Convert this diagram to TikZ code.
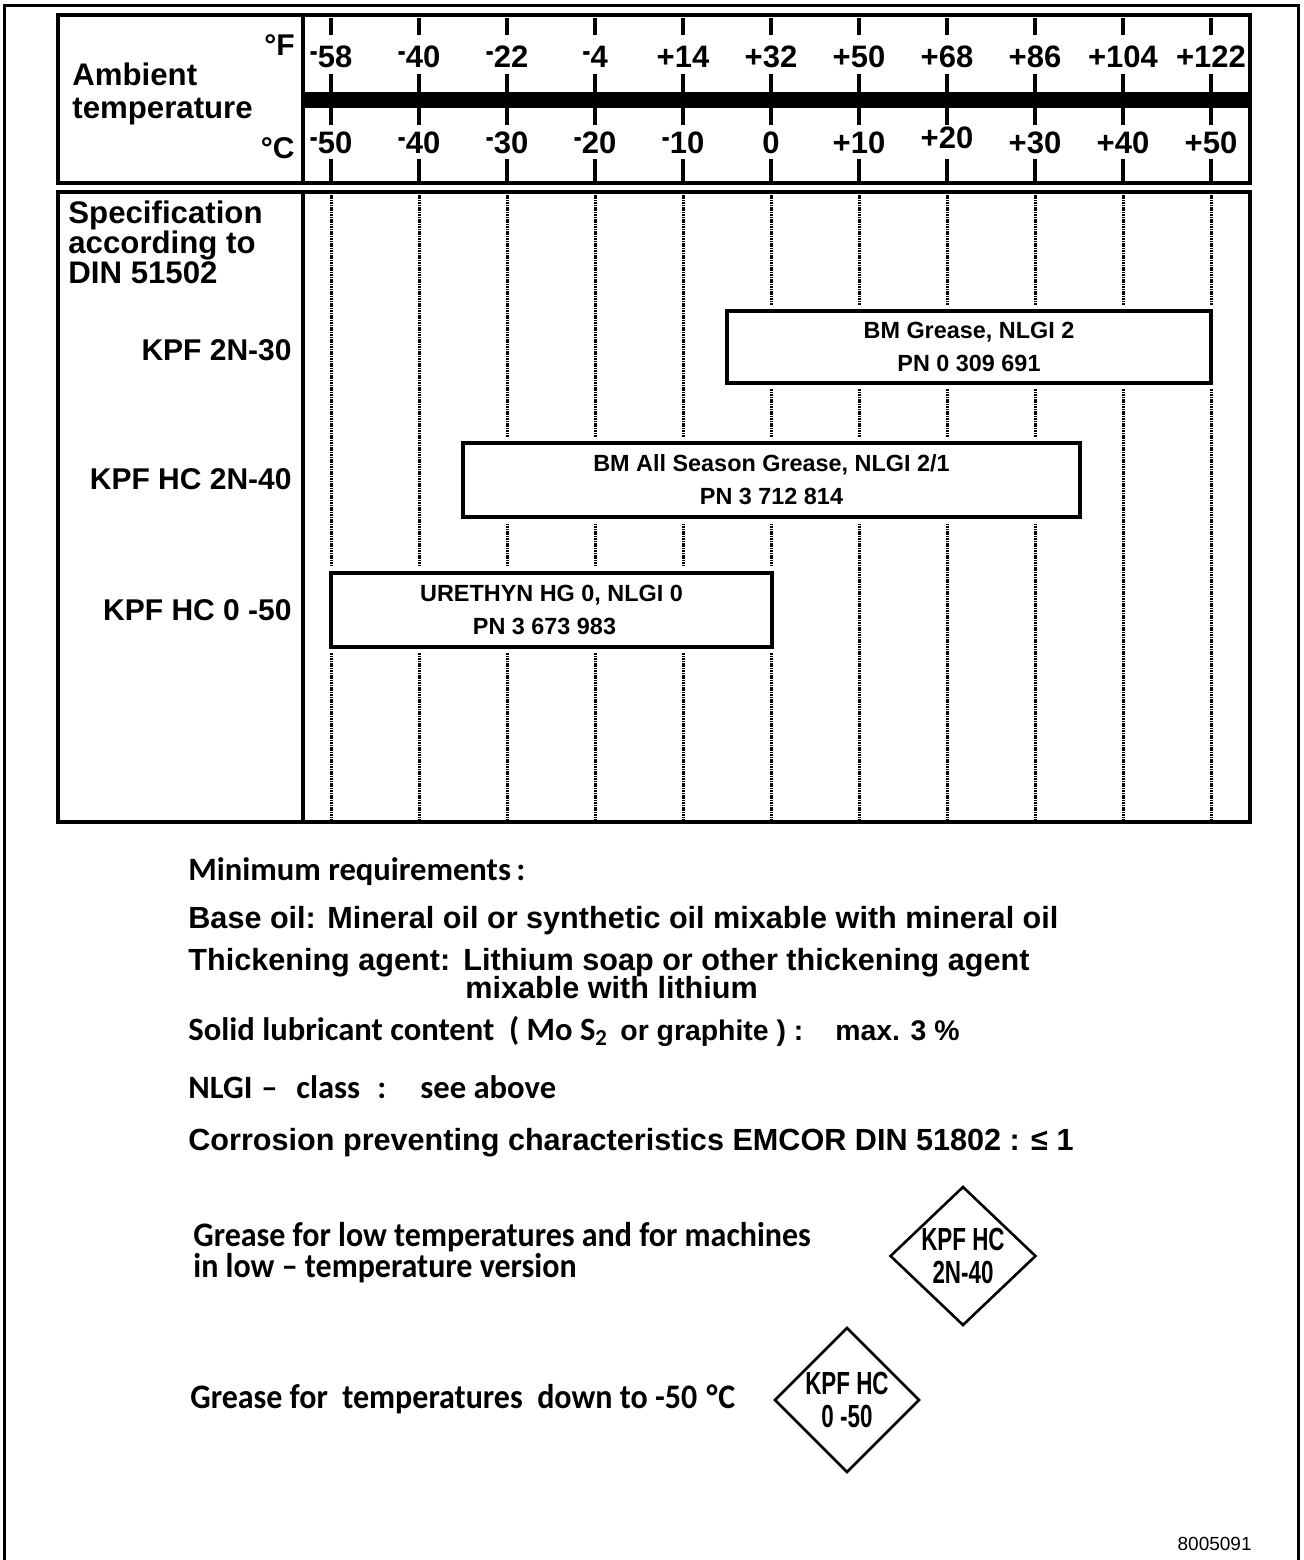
\documentclass[tikz,border=0pt]{standalone}
\usepackage{fontspec}
\usepackage{graphicx}
\setmainfont{Liberation Sans}
\newfontfamily\calfont{Carlito}
\newfontfamily\calcfont[FakeStretch=0.93]{Carlito}
\newfontfamily\narrowfont[FakeStretch=0.7]{Liberation Sans}
\usetikzlibrary{shapes.geometric}
\newcommand\mneg{\raisebox{0.17em}{\scalebox{0.8}[1]{-}}}
\newcommand\fs[2]{\fontsize{#1}{#2}\selectfont}
\tikzset{
  frame/.style={line width=1.7pt},
  tickline/.style={line width=1.6pt},
  gridline/.style={line width=1.5pt, dash pattern=on 0.8pt off 0.4pt},
  rangebox/.style={draw, line width=1.8pt, fill=white, preaction={draw=white, line width=6pt},
    inner sep=0pt, font=\bfseries\fs{11.7}{16.5}, align=center},
  axlab/.style={font=\bfseries\fs{15.5}{15.5}, inner sep=0pt, anchor=base},
  lab/.style={font=\bfseries\fs{15}{15}, inner sep=0pt},
  biglab/.style={font=\bfseries\fs{15.6}{15.6}, inner sep=0pt, anchor=base west},
  req/.style={font=\bfseries\fs{15.3}{15.3}, inner sep=0pt, anchor=base west},
  sreq/.style={font=\bfseries\fs{14.2}{14.2}, inner sep=0pt, anchor=base west},
  creq/.style={font=\calfont\bfseries\fs{16.3}{16.3}, inner sep=0pt, anchor=base west},
  grease/.style={font=\calcfont\bfseries\fs{17.2}{17.2}, inner sep=0pt, anchor=base west},
  badge/.style={draw, diamond, line width=1.3pt, inner sep=0pt, align=center,
    font=\narrowfont\bfseries\fs{16}{16.5}},
}
\begin{document}
\begin{tikzpicture}[x=0.5pt,y=-0.5pt]
\useasboundingbox (0,0) rectangle (1303,1560);
% outer frame
\draw[line width=1.5pt] (4,1560) -- (4,5) -- (1298,5) -- (1298,1560);
% top box
\draw[frame] (58,15) rectangle (1250,183);
\draw[frame] (303,15) -- (303,183);
\fill (303,92) rectangle (1250,108);
% bottom box
\draw[frame] (58,192) rectangle (1250,822);
\draw[frame] (303,192) -- (303,822);
% grid and ticks
\foreach \i/\f/\c/\cy in {0/\mneg58/\mneg50/153, 1/\mneg40/\mneg40/153, 2/\mneg22/\mneg30/153,
  3/\mneg4/\mneg20/153, 4/+14/\mneg10/153, 5/+32/0/153, 6/+50/+10/153, 7/+68/+20/148,
  8/+86/+30/153, 9/+104/+40/153, 10/+122/+50/153}{
  \pgfmathsetmacro\xx{331+88.0*\i}
  \draw[tickline] (\xx,18) -- (\xx,35);
  \draw[tickline] (\xx,74) -- (\xx,125);
  \draw[tickline] (\xx,159) -- (\xx,183);
  \draw[gridline] (\xx,195) -- (\xx,820);
  \node[axlab] (f\i) at (\xx,67) {\f};
  \node[axlab] (c\i) at (\xx,\cy) {\c};
}
\node[lab, anchor=base east] (degF) at (295,55) {°F};
\node[lab, anchor=base east] (degC) at (295,158) {°C};
\node[biglab] (amb1) at (72,85) {Ambient};
\node[biglab] (amb2) at (72,118) {temperature};
\node[biglab] (spec1) at (68,223) {Specification};
\node[biglab] (spec2) at (68,253) {according to};
\node[biglab] (spec3) at (68,283) {DIN 51502};
\node[lab, anchor=base east] (k1) at (292,360) {KPF 2N-30};
\node[lab, anchor=base east] (k2) at (292,489) {KPF HC 2N-40};
\node[lab, anchor=base east] (k3) at (292,620) {KPF HC 0 -50};
% range boxes
\node[rangebox, minimum width=242pt, minimum height=36pt] (b1) at (969,347)
  {BM Grease, NLGI 2\\PN 0 309 691};
\node[rangebox, minimum width=308.5pt, minimum height=37pt] (b2) at (771.5,480)
  {BM All Season Grease, NLGI 2/1\\PN 3 712 814};
\node[rangebox, minimum width=220.5pt, minimum height=37pt] (b3) at (551.5,610)
  {URETHYN HG 0, NLGI 0\\PN 3 673 983\hspace*{7pt}};
% requirements
\node[creq] (r0) at (188,880) {Minimum requirements\,:};
\node[req] (r1) at (188,928) {Base oil: Mineral oil or synthetic oil mixable with mineral oil};
\node[req] (r2) at (188,970) {Thickening agent:};
\node[req] (r2b) at (463,970) {Lithium soap or other thickening agent};
\node[req] (r2c) at (465,998) {mixable with lithium};
\node[creq] (r3) at (188,1040) {Solid lubricant content\ \ ( Mo S\textsubscript{2}};
\node[sreq] (r3b) at (620,1040) {or graphite ) :};
\node[sreq] (r3c) at (835,1040) {max. 3 \%};
\node[creq] (r4a) at (188,1098) {NLGI};
\node[creq] (r4b) at (261,1098) {–};
\node[creq] (r4c) at (296,1098) {class};
\node[creq] (r4d) at (377,1098) {:};
\node[creq] (r4e) at (420,1098) {see above};
\node[req] (r5) at (188,1150) {Corrosion preventing characteristics EMCOR DIN 51802 : ≤ 1};
% grease notes
\node[grease] (g1) at (193,1246) {Grease for low temperatures and for machines};
\node[grease] (g2) at (193,1277) {in low – temperature version};
\node[grease] (g3) at (190,1408) {Grease for\ \ temperatures\ \ down to -50 \kern1pt°\kern0.5pt C};
\node[badge, minimum width=73pt, minimum height=68.5pt] (d1) at (963,1256) {KPF HC\\2N-40};
\node[badge, minimum width=72.5pt, minimum height=72.5pt] (d2) at (847,1400) {KPF HC\\0 -50};
\node[font=\fs{9.5}{9.5}, inner sep=0pt, anchor=base east] (code) at (1252,1550) {8005091};
\end{tikzpicture}
\end{document}
